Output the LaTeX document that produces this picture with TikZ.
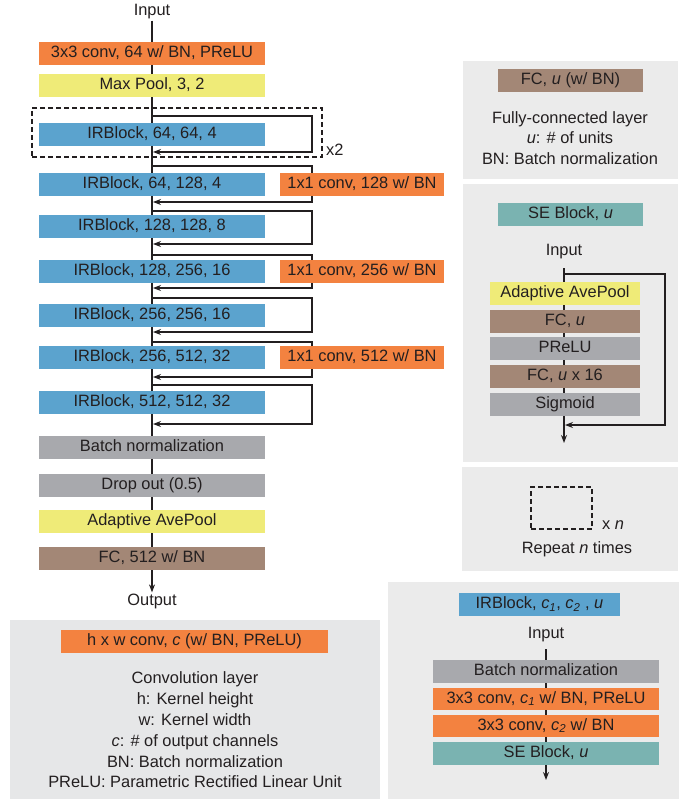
\documentclass[tikz,border=0pt]{standalone}
\usepackage{fontspec}
\setmainfont{Liberation Sans}
\usepackage{tikz}
\usetikzlibrary{arrows.meta}

\definecolor{convorange}{RGB}{243,130,64}
\definecolor{poolyellow}{RGB}{239,235,120}
\definecolor{irblue}{RGB}{91,163,206}
\definecolor{normgray}{RGB}{168,169,173}
\definecolor{fcbrown}{RGB}{163,135,118}
\definecolor{seteal}{RGB}{122,179,177}
\definecolor{panelgray}{RGB}{235,235,235}
\definecolor{panelcool}{RGB}{230,231,232}
\definecolor{inkgray}{RGB}{35,31,32}

\begin{document}
\begin{tikzpicture}[x=1pt, y=-1pt, font=\fontsize{16.4}{20.8}\selectfont, text=inkgray]
                \tikzstyle{layer} = [rectangle, minimum height=23pt, inner sep=0pt, text height=11.8pt, text depth=3.4pt, text centered]
                \tikzstyle{wide} = [layer, minimum width=226pt]
                \tikzstyle{shortcut} = [layer, minimum width=164pt, fill=convorange]
                \tikzstyle{seinner} = [layer, minimum width=150pt]
                \tikzstyle{legend} = [layer, minimum width=145pt]
                \tikzstyle{label} = [inner sep=1pt]
                \tikzstyle{arrow} = [line width=1.2pt, draw=inkgray, -{Stealth[length=8pt,width=6pt]}]
                \tikzstyle{repeatbox} = [draw=inkgray, line width=1.1pt, dash pattern=on 5pt off 3pt, inner sep=0pt]

                \fill[white] (0,0) rectangle (694,799);

                % panels
                \fill[panelgray] (463,61) rectangle (678,179);
                \fill[panelgray] (463,184) rectangle (678,462);
                \fill[panelgray] (462,467) rectangle (678,571);
                \fill[panelcool] (10,620) rectangle (380,799);
                \fill[panelgray] (388,582) rectangle (679,799);

                % main network
                \node (input) [label] at (152,12) {Input};
                \node (output) [label] at (152,601) {Output};
                \draw [arrow] (input) -- (output);

                \foreach \i/\t/\b in {1/116/152, 2/166/202, 3/211/244, 4/255/288, 5/298/332, 6/342/377, 7/385/424} {
                    \coordinate (split\i) at (152,\t);
                    \coordinate (turn\i) at (312,\b);
                    \coordinate (join\i) at (153,\b);
                    \draw [arrow] (split\i) -| (turn\i) -- (join\i);
                }

                \node (repeat1) [repeatbox, minimum width=290pt, minimum height=49pt] at (177,132.5) {};
                \node (times2) [label, anchor=west] at (325,150) {x2};

                \node (stem) [wide, fill=convorange] at (152,53.5) {3x3 conv, 64 w/ BN, PReLU};
                \node (maxpool) [wide, fill=poolyellow] at (152,85.5) {Max Pool, 3, 2};
                \node (ir1) [wide, fill=irblue] at (152,134.5) {IRBlock, 64, 64, 4};
                \node (ir2) [wide, fill=irblue] at (152,184.5) {IRBlock, 64, 128, 4};
                \node (ir3) [wide, fill=irblue] at (152,226.5) {IRBlock, 128, 128, 8};
                \node (ir4) [wide, fill=irblue] at (152,271.5) {IRBlock, 128, 256, 16};
                \node (ir5) [wide, fill=irblue] at (152,315.5) {IRBlock, 256, 256, 16};
                \node (ir6) [wide, fill=irblue] at (152,357.5) {IRBlock, 256, 512, 32};
                \node (ir7) [wide, fill=irblue] at (152,402.5) {IRBlock, 512, 512, 32};
                \node (bn) [wide, fill=normgray] at (152,447.5) {Batch normalization};
                \node (drop) [wide, fill=normgray] at (152,485.5) {Drop out (0.5)};
                \node (avepool) [wide, fill=poolyellow] at (152,521.5) {Adaptive AvePool};
                \node (fc) [wide, fill=fcbrown] at (152,558.5) {FC, 512 w/ BN};

                \node (down2) [shortcut] at (362,184.5) {1x1 conv, 128 w/ BN};
                \node (down4) [shortcut] at (362,271.5) {1x1 conv, 256 w/ BN};
                \node (down6) [shortcut] at (362,357.5) {1x1 conv, 512 w/ BN};

                % legend: fully-connected layer
                \node (fcdef) [legend, fill=fcbrown] at (570.5,80.5) {FC, \textit{u} (w/ BN)};
                \node (fctext) [label, align=center] at (570,138) {Fully-connected layer\\\textit{u}: \# of units\\BN: Batch normalization};

                % legend: SE block
                \node (sedef) [legend, fill=seteal] at (570.5,214.5) {SE Block, \textit{u}};
                \node (seinput) [label] at (564,252) {Input};
                \coordinate (setop) at (564,268);
                \coordinate (seout) at (564,443);
                \draw [arrow] (setop) -- (seout);
                \coordinate (sesplit) at (564,274);
                \coordinate (seturn) at (665,425);
                \coordinate (sejoin) at (565,425);
                \draw [arrow] (sesplit) -| (seturn) -- (sejoin);
                \node (sepool) [seinner, fill=poolyellow] at (565,293.5) {Adaptive AvePool};
                \node (sefc1) [seinner, fill=fcbrown] at (565,321.5) {FC, \textit{u}};
                \node (seprelu) [seinner, fill=normgray] at (565,348.5) {PReLU};
                \node (sefc2) [seinner, fill=fcbrown] at (565,376.5) {FC, \textit{u} x 16};
                \node (sesigmoid) [seinner, fill=normgray] at (565,404.5) {Sigmoid};

                % legend: repeat
                \node (repdef) [repeatbox, minimum width=61pt, minimum height=42pt] at (561.5,508) {};
                \node (timesn) [label, anchor=west] at (601,525) {x \textit{n}};
                \node (reptext) [label] at (577,549) {Repeat \textit{n} times};

                % legend: convolution layer
                \node (convdef) [layer, minimum width=267pt, fill=convorange] at (194.5,641.5) {h x w conv, \textit{c} (w/ BN, PReLU)};
                \node (convtext) [label, align=center] at (195,730) {Convolution layer\\h: Kernel height\\w: Kernel width\\\textit{c}: \# of output channels\\BN: Batch normalization\\PReLU: Parametric Rectified Linear Unit};

                % legend: IR block
                \node (irdef) [layer, minimum width=161pt, fill=irblue] at (539.5,604.5) {IRBlock, \textit{c}\textsubscript{\textit{1}}, \textit{c}\textsubscript{\textit{2}} , \textit{u}};
                \node (irinput) [label] at (546,635) {Input};
                \coordinate (irtop) at (546,649);
                \coordinate (irout) at (546,780);
                \draw [arrow] (irtop) -- (irout);
                \node (irbn) [wide, fill=normgray] at (546,671.5) {Batch normalization};
                \node (irconv1) [wide, fill=convorange, minimum height=22pt] at (546,699) {3x3 conv, \textit{c}\textsubscript{\textit{1}} w/ BN, PReLU};
                \node (irconv2) [wide, fill=convorange, minimum height=22pt] at (546,726) {3x3 conv, \textit{c}\textsubscript{\textit{2}} w/ BN};
                \node (irse) [wide, fill=seteal] at (546,753.5) {SE Block, \textit{u}};
            \end{tikzpicture}
\end{document}
